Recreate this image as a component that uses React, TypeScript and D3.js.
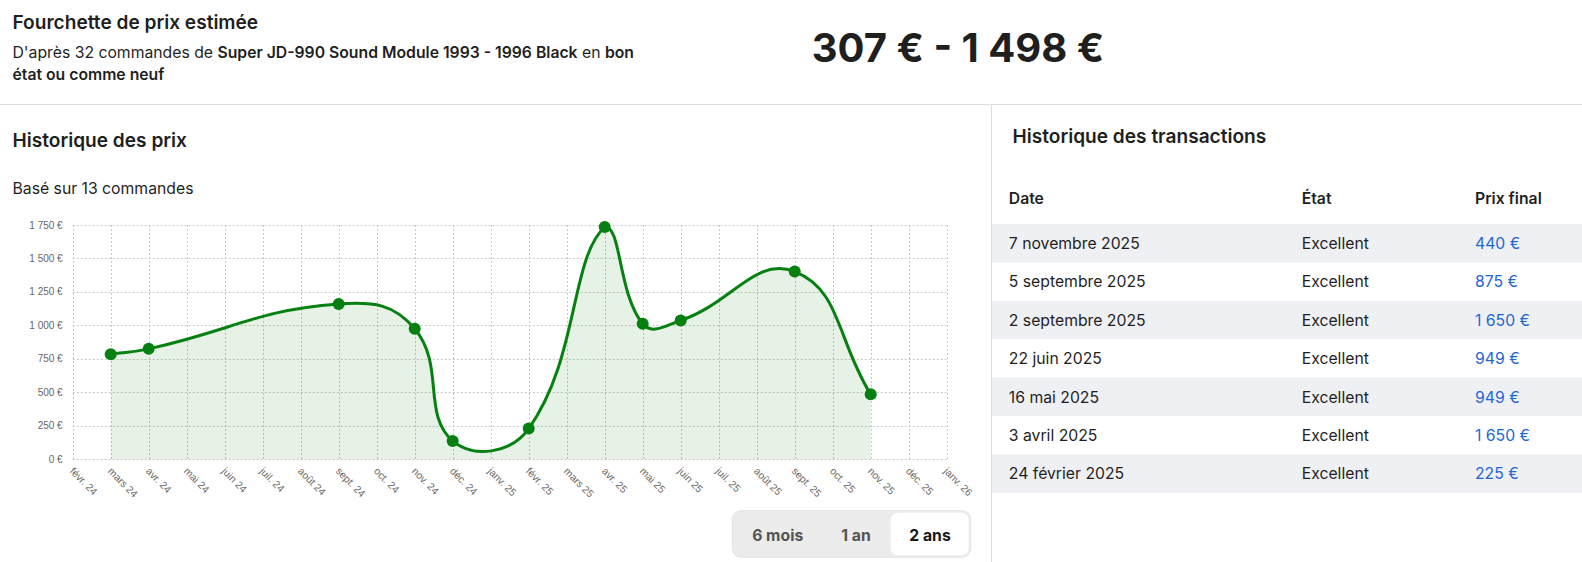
import React from "react";
import * as d3 from "d3";

const monthLabels = [
  "févr. 24", "mars 24", "avr. 24", "mai 24", "juin 24", "juil. 24", "août 24",
  "sept. 24", "oct. 24", "nov. 24", "déc. 24", "janv. 25", "févr. 25", "mars 25",
  "avr. 25", "mai 25", "juin 25", "juil. 25", "août 25", "sept. 25", "oct. 25",
  "nov. 25", "déc. 25", "janv. 26",
];
const pointMonths = [
  "mars 24", "avr. 24", "sept. 24", "nov. 24", "déc. 24", "févr. 25",
  "avr. 25", "mai 25", "juin 25", "sept. 25", "nov. 25",
];
const pointValues = [785, 825, 1160, 975, 137, 230, 1735, 1012, 1037, 1402, 485];
const yTicks = [0, 250, 500, 750, 1000, 1250, 1500, 1750];

const txDates = [
  "7 novembre 2025", "5 septembre 2025", "2 septembre 2025", "22 juin 2025",
  "16 mai 2025", "3 avril 2025", "24 février 2025",
];
const txStates = ["Excellent", "Excellent", "Excellent", "Excellent", "Excellent", "Excellent", "Excellent"];
const txPrices = [440, 875, 1650, 949, 949, 1650, 225];
const rangeLow = 307;
const rangeHigh = 1498;
const rangeButtons = ["6 mois", "1 an", "2 ans"];

const frLocale = d3.formatLocale({
  decimal: ",",
  thousands: "\u00a0",
  grouping: [3],
  currency: ["", " €"],
});
const fmtEur = (v: number) => frLocale.format(",d")(v) + "\u00a0€";

const INTER = "Inter, 'Noto Sans', sans-serif";
const HELV = "'Liberation Sans', Arial, Helvetica, sans-serif";
const BODY = 15.75;
const TITLE = 19.1;

type P = { x: number; y: number };

function splinePath(pts: P[], t: number, area: { left: number; right: number; top: number; bottom: number }) {
  const cps: { prev: P; next: P }[] = pts.map((cur, i) => {
    const prev = i > 0 ? pts[i - 1] : cur;
    const next = i < pts.length - 1 ? pts[i + 1] : cur;
    const d01 = Math.hypot(cur.x - prev.x, cur.y - prev.y);
    const d12 = Math.hypot(next.x - cur.x, next.y - cur.y);
    let s01 = d01 / (d01 + d12);
    let s12 = d12 / (d01 + d12);
    if (isNaN(s01)) s01 = 0;
    if (isNaN(s12)) s12 = 0;
    const fa = t * s01;
    const fb = t * s12;
    const cl = (p: P) => ({
      x: Math.max(area.left, Math.min(area.right, p.x)),
      y: Math.max(area.top, Math.min(area.bottom, p.y)),
    });
    return {
      prev: cl({ x: cur.x - fa * (next.x - prev.x), y: cur.y - fa * (next.y - prev.y) }),
      next: cl({ x: cur.x + fb * (next.x - prev.x), y: cur.y + fb * (next.y - prev.y) }),
    };
  });
  const p = d3.path();
  p.moveTo(pts[0].x, pts[0].y);
  for (let i = 1; i < pts.length; i++) {
    const a = cps[i - 1].next;
    const b = cps[i].prev;
    p.bezierCurveTo(a.x, a.y, b.x, b.y, pts[i].x, pts[i].y);
  }
  return p.toString();
}

export default function App() {
  const W = 1582;
  const H = 562;
  const left = 72.7, right = 946.7, top = 225, bottom = 459.3;
  const x = d3.scalePoint<string>().domain(monthLabels).range([left, right]);
  const y = d3.scaleLinear().domain([0, 1750]).range([bottom, top]);
  const pts: P[] = pointMonths.map((m, i) => ({ x: x(m)!, y: y(pointValues[i]) }));
  const linePath = splinePath(pts, 0.45, { left, right, top, bottom });
  const areaPath = linePath + `L${pts[pts.length - 1].x},${bottom}L${pts[0].x},${bottom}Z`;

  const rowY0 = 224;
  const rowH = 38.4;
  const colX = [1008.8, 1301.7, 1475];

  const btnCx = [777.7, 856, 930];

  return (
    <svg width={W} height={H} style={{ position: "absolute", left: 0, top: 0, background: "#fff" }}>
      {/* Header */}
      <text x={12.5} y={29} fontFamily={INTER} fontSize={TITLE} fontWeight={600} fill="#1f1f1f">
        Fourchette de prix estimée
      </text>
      <text x={12.5} y={57.5} fontFamily={INTER} fontSize={BODY} fill="#1f1f1f">
        <tspan>D'après 32 commandes de </tspan>
        <tspan fontWeight={600}>Super JD-990 Sound Module 1993 - 1996 Black</tspan>
        <tspan> en </tspan>
        <tspan fontWeight={600}>bon</tspan>
      </text>
      <text x={12.5} y={80} fontFamily={INTER} fontSize={BODY} fontWeight={600} fill="#1f1f1f">
        état ou comme neuf
      </text>
      <text x={958} y={62} textAnchor="middle" fontFamily={INTER} fontSize={40} fontWeight={700} fill="#1f1f1f">
        {fmtEur(rangeLow)} - {fmtEur(rangeHigh)}
      </text>
      <line x1={0} x2={W} y1={104.5} y2={104.5} stroke="#dedede" />
      <line x1={991.5} x2={991.5} y1={104.5} y2={H} stroke="#dedede" />

      {/* Left panel */}
      <text x={12.5} y={146.5} fontFamily={INTER} fontSize={TITLE} fontWeight={600} fill="#1f1f1f">
        Historique des prix
      </text>
      <text x={12.5} y={193.5} fontFamily={INTER} fontSize={BODY} fill="#1f1f1f">
        Basé sur 13 commandes
      </text>

      {/* Grid */}
      <g stroke="#c9c9c9" strokeDasharray="2 2" strokeWidth={1}>
        {yTicks.map((t) => (
          <line key={"h" + t} x1={left} x2={right} y1={Math.round(y(t)) + 0.5} y2={Math.round(y(t)) + 0.5} />
        ))}
        {monthLabels.map((m) => (
          <line key={"v" + m} x1={Math.round(x(m)!) + 0.5} x2={Math.round(x(m)!) + 0.5} y1={top} y2={bottom} />
        ))}
      </g>
      {/* Y labels */}
      {yTicks.map((t) => (
        <text key={"yl" + t} x={62.7} y={y(t)} dy="0.35em" textAnchor="end" fontFamily={HELV} fontSize={10} fill="#666">
          {fmtEur(t)}
        </text>
      ))}
      {/* X labels */}
      {monthLabels.map((m) => (
        <g key={"xl" + m} transform={`translate(${x(m)! - 1},${bottom + 10}) rotate(45)`}>
          <text x={0} y={0} dy="0.35em" textAnchor="start" fontFamily={HELV} fontSize={10.3} fill="#666">
            {m}
          </text>
        </g>
      ))}

      {/* Series */}
      <path d={areaPath} fill="rgba(0,128,0,0.1)" />
      <path d={linePath} fill="none" stroke="#078012" strokeWidth={3} />
      {pts.map((p, i) => (
        <circle key={"pt" + i} cx={p.x} cy={p.y} r={6} fill="#078012" />
      ))}

      {/* Range buttons */}
      <rect x={732.3} y={510.7} width={238.4} height={46.6} rx={9} fill="#ececec" stroke="#e3e3e3" />
      <rect x={890.7} y={512.7} width={78} height={42.6} rx={7} fill="#fff" />
      {rangeButtons.map((b, i) => (
        <text key={b} x={btnCx[i]} y={540.5} textAnchor="middle" fontFamily={INTER} fontSize={BODY} fontWeight={700}
          fill={i === 2 ? "#1a1a1a" : "#555"}>
          {b}
        </text>
      ))}

      {/* Right panel */}
      <text x={1012.5} y={143} fontFamily={INTER} fontSize={TITLE} fontWeight={600} fill="#1f1f1f">
        Historique des transactions
      </text>
      {["Date", "État", "Prix final"].map((h, i) => (
        <text key={h} x={colX[i]} y={203.5} fontFamily={INTER} fontSize={BODY} fontWeight={600} fill="#1f1f1f">
          {h}
        </text>
      ))}
      {txDates.map((d, i) => (
        <g key={"row" + i}>
          {i % 2 === 0 && <rect x={992} y={rowY0 + i * rowH} width={W - 992} height={rowH} fill="#eff0f3" />}
          <text x={colX[0]} y={rowY0 + i * rowH + rowH / 2 + 5.7} fontFamily={INTER} fontSize={BODY} fill="#1f1f1f">{d}</text>
          <text x={colX[1]} y={rowY0 + i * rowH + rowH / 2 + 5.7} fontFamily={INTER} fontSize={BODY} fill="#1f1f1f">{txStates[i]}</text>
          <text x={colX[2]} y={rowY0 + i * rowH + rowH / 2 + 5.7} fontFamily={INTER} fontSize={BODY} fill="#1f66d4">{fmtEur(txPrices[i])}</text>
        </g>
      ))}
    </svg>
  );
}
